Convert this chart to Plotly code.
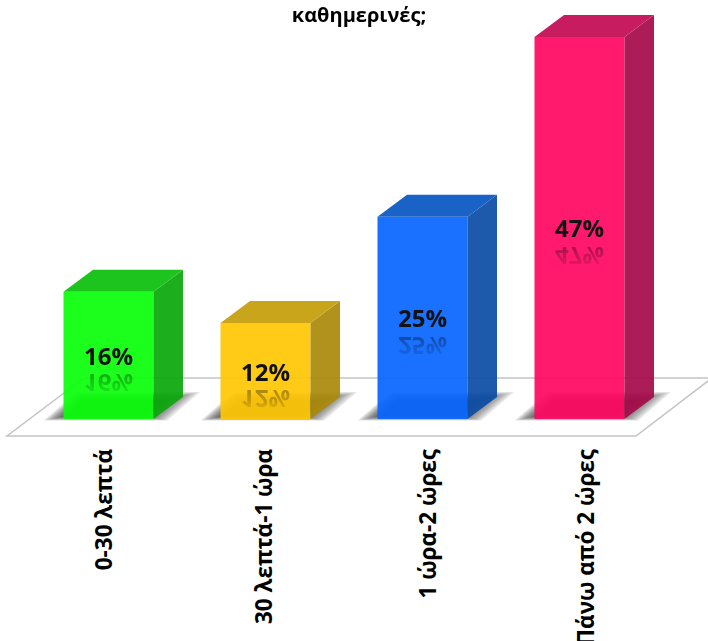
import plotly.graph_objects as go

categories = ["0-30 λεπτά", "30 λεπτά-1 ώρα", "1 ώρα-2 ώρες", "Πάνω από 2 ώρες"]
values = [15.8, 11.9, 25.1, 47.4]
labels = ["16%", "12%", "25%", "47%"]
front = ["#0bff0b", "#ffc806", "#0967ff", "#ff0963"]
side = ["#0ca80c", "#ab8a0c", "#0c4da5", "#a60c4a"]
top = ["#1ec41e", "#c9a51c", "#1a63c6", "#c81c60"]
label_pos = [-0.022, 0.997, 2.04, 3.048]

W, H = 708, 641
PX_X, PX_Y = 157.0, 8.06
X0_PX, BASE_PX = 108.5, 419.0
BAR_W = 90 / PX_X
DX, DY = 29.5 / PX_X, 22 / PX_Y
FONT = "Open Sans"

def xu(px):
    return px / PX_X

def yu(px):
    return px / PX_Y

fig = go.Figure()

# front faces
fig.add_trace(go.Bar(
    x=list(range(4)), y=values, width=BAR_W,
    marker=dict(color=front, line=dict(width=0)),
    opacity=0.93,
    text=labels, textposition="inside", insidetextanchor="middle", textangle=0,
    textfont=dict(family=FONT, size=24, color="black", weight=700),
    hoverinfo="skip",
))

# side and top faces
for i, v in enumerate(values):
    x0, x1 = i - BAR_W / 2, i + BAR_W / 2
    fig.add_trace(go.Scatter(
        x=[x1, x1 + DX, x1 + DX, x1, x1], y=[0, DY, v + DY, v, 0],
        mode="lines", line=dict(width=0), fill="toself", fillcolor=side[i],
        opacity=0.93, hoverinfo="skip"))
    fig.add_trace(go.Scatter(
        x=[x0, x0 + DX, x1 + DX, x1, x0], y=[v, v + DY, v + DY, v, v],
        mode="lines", line=dict(width=0), fill="toself", fillcolor=top[i],
        hoverinfo="skip"))

def path(pts):
    return "M " + " L ".join(f"{x:.4f},{y:.4f}" for x, y in pts) + " Z"

shapes = []
# floor
fl = xu(7 - X0_PX); fr = xu(636 - X0_PX); bl = xu(84 - X0_PX); br = xu(712 - X0_PX)
yf = yu(419 - 436); yb = yu(419 - 378)
shapes.append(dict(type="path", layer="below", xref="x", yref="y",
                   path=path([(fl, yf), (fr, yf), (br, yb), (bl, yb)]),
                   line=dict(color="#c4c4c4", width=1.5), fillcolor="white"))
# soft shadows under the bars
LAYERS = 14
for i in range(4):
    for k in range(LAYERS):
        ins = 1.7 * k
        x0 = i - BAR_W / 2 + xu(-20 + ins)
        x1 = i + BAR_W / 2 + xu(14 - ins)
        yl = yu(-1.5 + ins * 0.2)
        yh = yu(27 - ins * 0.35)
        skew = (yh - yl) * PX_Y * (30 / 26) / PX_X
        shapes.append(dict(type="path", layer="below", xref="x", yref="y",
                           path=path([(x0, yl), (x1, yl), (x1 + skew, yh), (x0 + skew, yh)]),
                           line=dict(width=0), fillcolor="rgba(30,30,30,0.085)"))

# mirrored reflections of the labels
annotations = [dict(x=i, y=v / 2 - yu(28.5), xref="x", yref="y", text=f"<b>{labels[i]}</b>",
                    showarrow=False, font=dict(family=FONT, size=24, color="black"))
               for i, v in enumerate(values)]

fig.update_layout(
    width=W, height=H, showlegend=False, plot_bgcolor="white", paper_bgcolor="white",
    margin=dict(l=0, r=0, t=0, b=0, autoexpand=False),
    title=dict(text="<b>καθημερινές;</b>", x=0.507, xref="paper", xanchor="center",
               y=1 - 15 / H, yref="paper", yanchor="middle",
               font=dict(family=FONT, size=20, color="black")),
    shapes=shapes, annotations=annotations,
    xaxis=dict(range=[-X0_PX / PX_X, (W - X0_PX) / PX_X], domain=[0, 1], automargin=False,
               anchor="free", position=(H - BASE_PX) / H,
               tickmode="array", tickvals=label_pos, ticktext=categories, tickangle=-90,
               ticks="outside", ticklen=20, tickcolor="rgba(0,0,0,0)",
               tickfont=dict(family=FONT, size=22.5, color="black", weight=700),
               showgrid=False, zeroline=False, showline=False),
    yaxis=dict(range=[-(H - BASE_PX) / PX_Y, BASE_PX / PX_Y], domain=[0, 1], automargin=False,
               visible=False, showgrid=False, zeroline=False),
)

post = """
document.body.style.margin = '0';
document.body.style.overflow = 'hidden';
var svgNS = 'http://www.w3.org/2000/svg';
var root = document.querySelector('.main-svg');
var defs = root.querySelector('defs');
var g = document.createElementNS(svgNS, 'linearGradient');
g.setAttribute('id', 'fadeRefl');
g.setAttribute('x1', '0'); g.setAttribute('y1', '0'); g.setAttribute('x2', '0'); g.setAttribute('y2', '1');
[[0, 0.0], [1, 0.42]].forEach(function (s) {
  var st = document.createElementNS(svgNS, 'stop');
  st.setAttribute('offset', s[0]); st.setAttribute('stop-color', '#000'); st.setAttribute('stop-opacity', s[1]);
  g.appendChild(st);
});
defs.appendChild(g);
document.querySelectorAll('.annotation-text-g text').forEach(function (t) {
  var b = t.getBBox(); var cy = b.y + b.height / 2;
  t.setAttribute('transform', 'translate(0,' + (2 * cy) + ') scale(1,-1)');
  t.style.fill = 'url(#fadeRefl)';
});
"""
fig.write_html("out.html", post_script=post, config={"displayModeBar": False})
